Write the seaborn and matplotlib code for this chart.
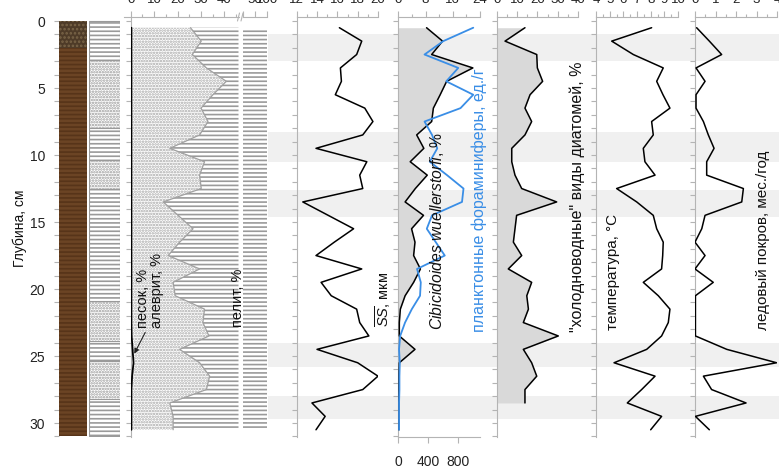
import numpy as np
import pandas as pd
import matplotlib
matplotlib.use("Agg")
import matplotlib.pyplot as plt
import seaborn as sns
from matplotlib.ticker import MultipleLocator, FixedLocator
from matplotlib.lines import Line2D

# depth of samples, cm
depth = [0.5, 1.5, 2.5, 3.5, 4.5, 5.5, 6.5, 7.5, 8.5, 9.5, 10.5, 11.5, 12.5, 13.5, 14.5,
         15.5, 16.5, 17.5, 18.5, 19.5, 20.5, 21.5, 22.5, 23.5, 24.5, 25.5, 26.5, 27.5,
         28.5, 29.5, 30.5]
diat_depth = depth[:29]

sand = [0.3, 0.3, 0.3, 0.3, 0.3, 0.3, 0.3, 0.3, 0.3, 0.3, 0.3, 0.3, 0.3, 0.3, 0.3, 0.3,
        0.3, 0.3, 0.3, 0.3, 0.3, 0.3, 0.3, 0.4, 0.8, 1.2, 0.6, 0.3, 0.3, 0.3, 0.3]
silt = [25.2, 29.8, 26.0, 32.0, 40.5, 34.8, 29.7, 32.7, 29.1, 16.4, 31.2, 29.1, 29.8, 13.6,
        19.9, 26.3, 20.6, 15.7, 29.1, 17.8, 18.7, 31.2, 30.5, 33.0, 20.1, 28.2, 33.1, 32.0,
        16.4, 17.8, 17.8]
ss = [16.2, 18.4, 17.9, 16.3, 16.4, 15.8, 18.7, 19.5, 18.5, 13.9, 18.9, 18.2, 18.5, 12.6,
      15.1, 17.6, 15.7, 13.9, 18.4, 14.4, 15.4, 17.9, 18.2, 19.1, 14.0, 18.0, 20.0, 18.5,
      13.5, 14.8, 13.9]
cib = [8.3, 13.0, 9.8, 21.9, 14.2, 12.3, 10.3, 9.8, 5.4, 7.5, 3.5, 8.5, 5.0, 2.0, 7.4, 3.9,
       4.9, 4.5, 6.5, 4.5, 2.0, 0.6, 0.3, 0.3, 4.9, 0.3, 0.2, 0.2, 0.2, 0.2, 0.2]
forams = [1000, 600, 350, 800, 640, 1000, 830, 350, 450, 520, 420, 650, 870, 850, 450, 380,
          500, 620, 250, 300, 290, 180, 90, 25, 10, 20, 15, 15, 10, 10, 10]
diat = [13.9, 4.1, 19.7, 20.0, 22.6, 16.4, 13.9, 17.2, 13.9, 7.4, 7.4, 9.0, 12.3, 29.5, 9.8,
        9.0, 8.2, 12.3, 5.7, 17.2, 14.8, 15.6, 13.1, 30.3, 13.1, 17.2, 19.7, 13.9, 13.9]
temp = [8.07, 5.15, 6.73, 8.92, 8.44, 8.9, 9.41, 8.07, 8.19, 7.46, 7.58, 8.32, 5.51, 6.98,
        8.19, 8.44, 8.92, 8.88, 8.80, 7.46, 8.56, 9.41, 9.29, 8.80, 7.71, 5.32, 8.32, 7.34,
        6.29, 8.80, 8.00]
ice = [0.08, 0.7, 1.3, 0.05, 0.49, 0.05, 0.05, 0.41, 0.65, 0.93, 0.57, 0.57, 2.36, 2.28,
       0.49, 0.33, 0.0, 0.49, 0.0, 0.89, 0.02, 0.02, 0.02, 0.02, 1.55, 3.98, 0.41, 0.81,
       2.49, 0.02, 0.7]

# lithology: core colour column and sediment column
core_top = [0.0, 2.05]
core_bot = [2.05, 31.0]
silt_top = [2.9, 10.4, 20.9, 25.4]
silt_bot = [8.0, 12.5, 23.9, 28.2]

# grey intervals
band_top = [1.0, 8.3, 12.6, 24.0, 28.0]
band_bot = [3.0, 10.5, 14.6, 25.8, 29.7]

sns.set_theme(style="white")
plt.rcParams["font.family"] = ["Liberation Sans", "DejaVu Sans"]
plt.rcParams["mathtext.fontset"] = "custom"
plt.rcParams["mathtext.rm"] = "Liberation Sans"
plt.rcParams["mathtext.it"] = "Liberation Sans:italic"
plt.rcParams["hatch.linewidth"] = 1.2

FS = 9.5
FL = 11
GRAY = "#b4b4b4"
BLUE = "#3a8ee6"
FILL = "#d9d9d9"
W, H = 779, 466
Y0, Y1 = 17, 437
YLIM = (31.04, -0.30)

fig = plt.figure(figsize=(W / 100, H / 100), dpi=100)


def add_ax(x0, x1):
    ax = fig.add_axes([x0 / W, 1 - Y1 / H, (x1 - x0) / W, (Y1 - Y0) / H])
    ax.set_ylim(*YLIM)
    ax.set_facecolor("none")
    return ax


def style(ax, xlim, major, minor):
    ax.set_xlim(*xlim)
    ax.set_ylim(*YLIM)
    ax.set_xlabel("")
    ax.set_ylabel("")
    for s in ("right", "bottom"):
        ax.spines[s].set_visible(False)
    for s in ("top", "left"):
        ax.spines[s].set_color(GRAY)
        ax.spines[s].set_linewidth(0.8)
        ax.spines[s].set_zorder(1.5)
    ax.xaxis.tick_top()
    ax.xaxis.set_major_locator(MultipleLocator(major))
    ax.xaxis.set_minor_locator(MultipleLocator(minor))
    ax.yaxis.set_major_locator(MultipleLocator(1))
    ax.tick_params(axis="x", which="major", length=4, width=0.8, color=GRAY, pad=4,
                   labelsize=FS, colors="#222222")
    ax.tick_params(axis="x", which="minor", length=2, width=0.8, color=GRAY, top=True)
    ax.tick_params(axis="y", which="major", length=3.5, width=0.8, color=GRAY,
                   left=True, labelleft=False)
    ax.grid(False)


def profile(ax, x, y, color="black", lw=1.1):
    sns.lineplot(x=x, y=y, orient="y", sort=False, estimator=None, ax=ax,
                 color=color, lw=lw, zorder=3)


# background bands
bg = add_ax(268, 779)
bg.set_xlim(0, 1)
bg.axis("off")
for t, b in zip(band_top, band_bot):
    bg.axhspan(t, b, color="#f0f0f0", lw=0)
bg.set_zorder(0)

# core column
ax_a = add_ax(58.5, 87)
ax_a.set_xlim(0, 1)
ax_a.fill_betweenx(core_top[:1] + core_bot[:1], 0, 1, facecolor="#4e3b28",
                   hatch="....", edgecolor="#7a6548", lw=0)
ax_a.fill_betweenx(core_top[1:] + core_bot[1:], 0, 1, facecolor="#6b4424",
                   hatch="----", edgecolor="#573419", lw=0)
for s in ax_a.spines.values():
    s.set_visible(False)
ax_a.set_xticks([])
ax_a.yaxis.set_major_locator(MultipleLocator(5))
ax_a.yaxis.set_minor_locator(MultipleLocator(1))
ax_a.tick_params(axis="y", which="both", left=True, length=3.5, width=0.8, color=GRAY,
                 pad=6, labelsize=FS + 0.5, labelcolor="#222222")

# sediment column
ax_b = add_ax(89, 119.5)
ax_b.set_xlim(0, 1)
ax_b.fill_betweenx([0, 31], 0, 1, facecolor="white", hatch="----", edgecolor="#9a9a9a",
                   lw=0.8)
for t, b in zip(silt_top, silt_bot):
    ax_b.fill_betweenx([t, b], 0, 1, facecolor="white", hatch="......",
                       edgecolor="#9a9a9a", lw=0.8)
ax_b.axis("off")

# grain size
cum = list(np.add(sand, silt))
ax_g = add_ax(130.7, 238.5)
ax_g.fill_betweenx(depth, sand, cum, facecolor="white", hatch="......", edgecolor="#a8a8a8", lw=0)
ax_g.fill_betweenx(depth, cum, 46, facecolor="white", hatch="----", edgecolor="#9a9a9a", lw=0)
profile(ax_g, cum, depth, color="#a0a0a0", lw=0.9)
profile(ax_g, sand, depth, lw=1.3)
style(ax_g, (0, 46), 10, 5)
ax_g.spines["top"].set_bounds(-3, 46)

ax_g2 = add_ax(243, 267)
ax_g2.fill_betweenx(depth, 0, 100, facecolor="white", hatch="----", edgecolor="#9a9a9a", lw=0)
style(ax_g2, (0, 100), 50, 50)
ax_g2.xaxis.set_major_locator(FixedLocator([0, 50, 100]))
ax_g2.set_xticklabels(["", "50", "100"])
ax_g2.spines["left"].set_visible(False)
ax_g2.tick_params(axis="y", left=False)
for xb in (237.5, 241.0):
    fig.add_artist(Line2D([xb / W, (xb + 2) / W], [1 - 21 / H, 1 - 13 / H], color=GRAY, lw=0.8))

# SS
ax_s = add_ax(296.7, 378)
profile(ax_s, ss, depth)
style(ax_s, (12, 20), 2, 1)

# Cibicidoides and planktonic forams
ax_c = add_ax(398.3, 480)
ax_f = ax_c.twiny()
ax_c.fill_betweenx(depth, 0, cib, color=FILL, lw=0)
profile(ax_c, cib, depth)
profile(ax_f, forams, depth, color=BLUE, lw=1.3)
style(ax_c, (0, 24), 8, 4)
ax_f.set_xlim(0, 1090)
ax_f.set_ylim(*YLIM)
ax_f.set_xlabel("")
ax_f.xaxis.set_ticks_position("bottom")
ax_f.xaxis.set_major_locator(FixedLocator([0, 400, 800]))
for s in ("top", "left", "right"):
    ax_f.spines[s].set_visible(False)
ax_f.spines["bottom"].set_color(GRAY)
ax_f.spines["bottom"].set_linewidth(0.8)
ax_f.tick_params(axis="x", length=4, width=0.8, color=GRAY, pad=9, labelsize=FS + 0.5,
                 labelcolor="#222222")

# diatoms
ax_d = add_ax(496.7, 578)
ax_d.fill_betweenx(diat_depth, 0, diat, color=FILL, lw=0)
profile(ax_d, diat, diat_depth)
style(ax_d, (0, 40), 10, 5)

# temperature
ax_t = add_ax(596, 678)
profile(ax_t, temp, depth)
style(ax_t, (4, 10), 1, 0.5)

# sea ice
ax_i = add_ax(695, 777)
profile(ax_i, ice, depth)
style(ax_i, (0, 4), 1, 0.5)

# labels
def vlabel(xpx, ybot, text, color="#111111", size=FL):
    fig.text(xpx / W, 1 - ybot / H, text, rotation=90, ha="center", va="bottom",
             fontsize=size, color=color)

fig.text(20 / W, 1 - 228 / H, "Глубина, см", rotation=90, ha="center", va="center",
         fontsize=FS + 0.5, color="#111111")
vlabel(143, 328, "песок, %", size=10.5)
vlabel(157, 328, "алеврит, %", size=10.5)
vlabel(238, 327, "пелит, %", size=10.5)
vlabel(383, 327, r"$\overline{\mathit{SS}}$, мкм", size=10.5)
vlabel(437, 330, r"$\mathit{Cibicidoides\ wuellerstorfi}$, %", size=11.3)
vlabel(479, 332, "планктонные фораминиферы, ед./г", color=BLUE, size=11.5)
vlabel(577, 332, "\"холодноводные\" виды диатомей, %", size=11.5)
vlabel(613, 330, "температура, °C")
vlabel(763, 330, "ледовый покров, мес./год")

ax_g.annotate("", xy=(sand[24] + 0.2, 25.0), xycoords="data",
              xytext=(146.5 / W, 1 - 330 / H), textcoords="figure fraction",
              arrowprops=dict(arrowstyle="-|>", color="#222222", lw=0.8, mutation_scale=7))

fig.savefig("out.png", dpi=100)
